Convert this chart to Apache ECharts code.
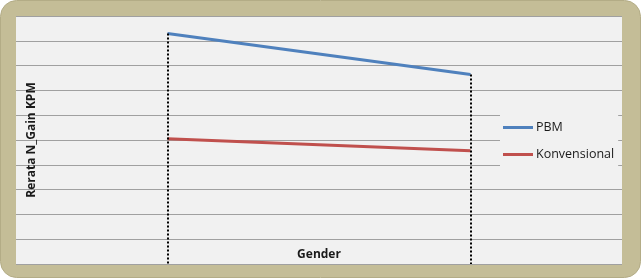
<!DOCTYPE html>
<html><head><meta charset="utf-8">
<script src="https://cdn.jsdelivr.net/npm/echarts@6/dist/echarts.min.js"></script>
<style>html,body{margin:0;padding:0;background:#fff;}#c{width:641px;height:278px;}</style>
</head><body><div id="c"></div>
<script>
const categories = ['Laki-laki', 'Perempuan'];
const pbm = [0.929, 0.764];
const konvensional = [0.505, 0.457];
const seriesNames = ['PBM', 'Konvensional'];
const yTitle = 'Rerata N_Gain KPM';
const xTitle = 'Gender';

const chart = echarts.init(document.getElementById('c'), null, {renderer: 'canvas'});
const font = '"Open Sans", "Noto Sans", sans-serif';
const dropData = categories.map((c, i) => [
  {xAxis: i, yAxis: Math.max(pbm[i], konvensional[i])},
  {xAxis: i, yAxis: 0}
]);
chart.setOption({
  animation: false,
  graphic: [
    {type: 'rect', z: -10, silent: true, shape: {x: 0.5, y: 0.5, width: 640, height: 277, r: 16},
     style: {fill: '#c4bd97', stroke: '#b3ac86', lineWidth: 1}},
    {type: 'rect', z: -9, silent: true, shape: {x: 16, y: 16, width: 606, height: 248},
     style: {fill: '#f1f1f1'}}
  ],
  grid: {left: 16, right: 19, top: 16, bottom: 14, containLabel: false},
  xAxis: {
    type: 'category', data: categories, boundaryGap: true,
    axisLine: {show: false}, axisTick: {show: false}, axisLabel: {show: false},
    name: xTitle, nameLocation: 'middle', nameGap: -15,
    nameTextStyle: {fontFamily: font, fontWeight: 'bold', fontSize: 12, color: '#1a1a1a'}
  },
  yAxis: {
    type: 'value', min: 0, max: 1, interval: 0.1,
    axisLine: {show: false}, axisTick: {show: false}, axisLabel: {show: false},
    splitLine: {show: true, lineStyle: {color: '#a0a0a0', width: 1}},
    name: yTitle, nameLocation: 'middle', nameGap: -22, nameRotate: 90,
    nameTextStyle: {fontFamily: font, fontWeight: 'bold', fontSize: 12, color: '#1a1a1a'}
  },
  legend: {
    orient: 'vertical', left: 500, top: 115,
    backgroundColor: '#f1f1f1', padding: [6, 4, 6, 3],
    icon: 'rect', itemWidth: 30, itemHeight: 3, itemGap: 14,
    textStyle: {fontFamily: font, fontSize: 12.5, color: '#1a1a1a', padding: [0, 0, 0, -2]},
    data: seriesNames
  },
  series: [
    {name: seriesNames[0], type: 'line', data: pbm, symbol: 'none',
     lineStyle: {color: '#4f81bd', width: 3}, itemStyle: {color: '#4f81bd'}, z: 3,
     markLine: {silent: true, symbol: 'none', label: {show: false}, z: 5,
       lineStyle: {color: '#000', width: 2, type: [2, 2]}, data: dropData}},
    {name: seriesNames[1], type: 'line', data: konvensional, symbol: 'none',
     lineStyle: {color: '#c0504d', width: 3}, itemStyle: {color: '#c0504d'}, z: 2}
  ]
});
</script></body></html>
